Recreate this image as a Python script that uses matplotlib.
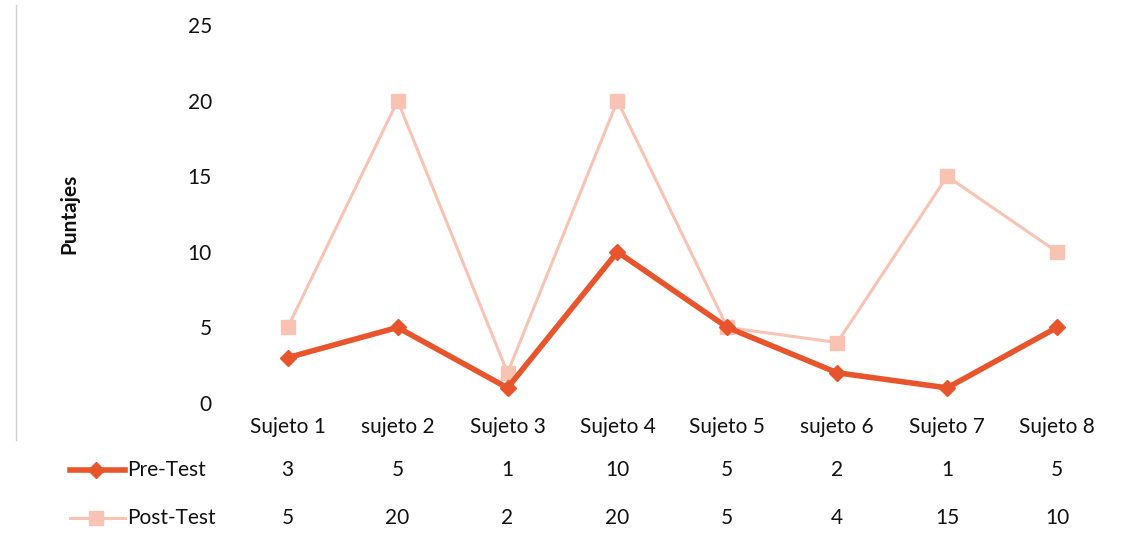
"""
Line chart with data table: Pre-Test vs Post-Test scores per subject
"""

import matplotlib

matplotlib.use("Agg")
import matplotlib.pyplot as plt
from matplotlib.lines import Line2D

# data
sujetos = ["Sujeto 1", "sujeto 2", "Sujeto 3", "Sujeto 4",
           "Sujeto 5", "sujeto 6", "Sujeto 7", "Sujeto 8"]
pre_test = [3, 5, 1, 10, 5, 2, 1, 5]
post_test = [5, 20, 2, 20, 5, 4, 15, 10]
y_ticks = [0, 5, 10, 15, 20, 25]

PRE_COLOR = "#e8542c"
POST_COLOR = "#f9c3b4"
TEXT_COLOR = "#111111"
FONT = "Lato"
FS = 15

plt.rcParams["font.family"] = [FONT, "DejaVu Sans"]

fig = plt.figure(figsize=(11.41, 5.48), dpi=100)
ax = fig.add_axes([0.204, 0.2646, 0.7706, 0.6894])

x = list(range(len(sujetos)))

# post-test first so pre-test sits on top
ax.plot(x, post_test, color=POST_COLOR, linewidth=2.2, marker="s",
        markersize=10, markeredgecolor=POST_COLOR)
ax.plot(x, pre_test, color=PRE_COLOR, linewidth=4, marker="D",
        markersize=8, markeredgecolor=PRE_COLOR)

ax.set_xlim(-0.5, len(sujetos) - 0.5)
ax.set_ylim(0, 25)
ax.set_yticks(y_ticks)
ax.set_yticklabels([str(t) for t in y_ticks], fontsize=FS, color=TEXT_COLOR)
ax.tick_params(axis="y", length=0, pad=15)
ax.set_xticks([])
for s in ax.spines.values():
    s.set_visible(False)

ax.set_ylabel("Puntajes", fontsize=FS, fontweight="bold", color=TEXT_COLOR)
ax.yaxis.set_label_coords(-0.175, 0.5)

# data table under the plot
tr = ax.get_xaxis_transform()
for i, name in enumerate(sujetos):
    ax.text(i, -0.063, name, transform=tr, ha="center", va="center",
            fontsize=FS, color=TEXT_COLOR, clip_on=False)
    ax.text(i, -0.177, str(pre_test[i]), transform=tr, ha="center",
            va="center", fontsize=FS, color=TEXT_COLOR, clip_on=False)
    ax.text(i, -0.304, str(post_test[i]), transform=tr, ha="center",
            va="center", fontsize=FS, color=TEXT_COLOR, clip_on=False)

# row headers with legend keys
rows = [("Pre-Test", PRE_COLOR, "D", 4, 8, 1 - 470 / 548),
        ("Post-Test", POST_COLOR, "s", 2.2, 10, 1 - 518 / 548)]
for label, color, marker, lw, ms, yy in rows:
    fig.add_artist(Line2D([70 / 1141, 125 / 1141], [yy, yy], color=color,
                          linewidth=lw, transform=fig.transFigure))
    fig.add_artist(Line2D([96 / 1141], [yy], color=color, marker=marker,
                          markersize=ms, transform=fig.transFigure))
    fig.text(127 / 1141, yy, label, ha="left", va="center", fontsize=FS,
             color=TEXT_COLOR)

# faint frame line on the left
fig.add_artist(Line2D([16 / 1141, 16 / 1141], [1 - 5 / 548, 1 - 440 / 548],
                      color="#d0d0d0", linewidth=1, transform=fig.transFigure))

fig.savefig("out.png", dpi=100)
